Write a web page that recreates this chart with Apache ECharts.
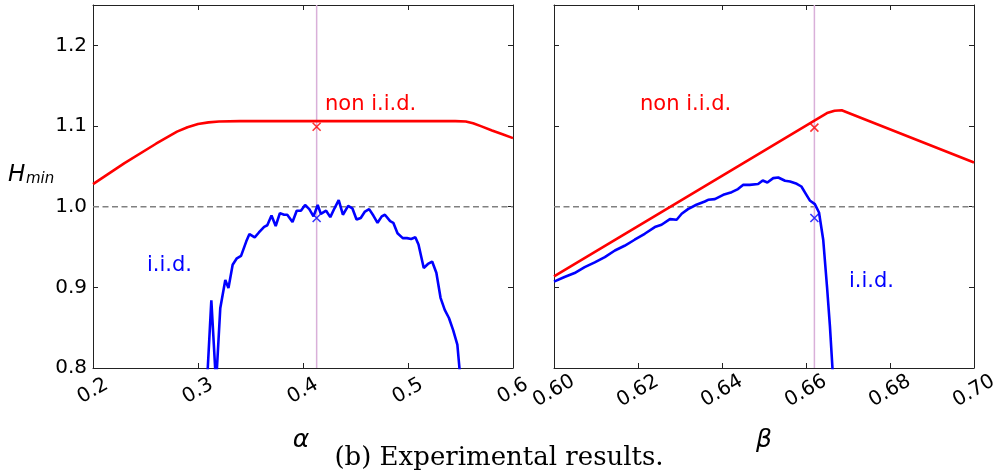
<!DOCTYPE html>
<html><head><meta charset="utf-8">
<script src="https://cdn.jsdelivr.net/npm/echarts@6/dist/echarts.min.js"></script>
<style>html,body{margin:0;padding:0;background:#fff}#c{width:1004px;height:473px}</style>
</head><body><div id="c"></div>
<script>
// ---- data ----
const alphaTicks = [0.2, 0.3, 0.4, 0.5, 0.6];
const betaTicks = [0.60, 0.62, 0.64, 0.66, 0.68, 0.70];
const hTicks = [0.8, 0.9, 1.0, 1.1, 1.2];
const hMax = 1.25;

const alphaRedX = [0.2, 0.23, 0.26, 0.28, 0.29, 0.30, 0.31, 0.32, 0.34, 0.40, 0.50, 0.545, 0.555, 0.562, 0.57, 0.58, 0.59, 0.6];
const alphaRedY = [1.028, 1.054, 1.078, 1.093, 1.0985, 1.1025, 1.1045, 1.1055, 1.106, 1.106, 1.106, 1.106, 1.1055, 1.1035, 1.0995, 1.0945, 1.0898, 1.085];

const alphaBlueX = [0.3085, 0.3127, 0.3172, 0.3212, 0.326, 0.329, 0.333, 0.337, 0.341, 0.346, 0.349, 0.354, 0.358, 0.363, 0.366, 0.370, 0.374, 0.378, 0.382, 0.385, 0.390, 0.394, 0.398, 0.402, 0.406, 0.410, 0.414, 0.417, 0.422, 0.426, 0.430, 0.434, 0.438, 0.443, 0.447, 0.451, 0.455, 0.459, 0.463, 0.467, 0.471, 0.475, 0.478, 0.483, 0.486, 0.490, 0.495, 0.499, 0.503, 0.507, 0.510, 0.515, 0.519, 0.523, 0.527, 0.531, 0.535, 0.539, 0.543, 0.547, 0.549, 0.551];
const alphaBlueY = [0.78, 0.884, 0.78, 0.874, 0.909, 0.899, 0.928, 0.936, 0.939, 0.957, 0.966, 0.962, 0.968, 0.975, 0.977, 0.989, 0.976, 0.992, 0.990, 0.990, 0.981, 0.995, 0.995, 1.002, 0.997, 0.988, 1.002, 0.991, 0.995, 0.987, 0.998, 1.008, 0.990, 1.001, 0.998, 0.984, 0.986, 0.994, 0.997, 0.989, 0.980, 0.988, 0.990, 0.982, 0.980, 0.967, 0.961, 0.961, 0.960, 0.962, 0.953, 0.924, 0.929, 0.932, 0.918, 0.887, 0.872, 0.862, 0.847, 0.829, 0.800, 0.76];

const betaRedX = [0.6, 0.662, 0.665, 0.6668, 0.6685, 0.670, 0.7];
const betaRedY = [0.9135, 1.1068, 1.1161, 1.119, 1.1195, 1.1164, 1.0548];

const betaBlueX = [0.6, 0.6025, 0.6049, 0.6073, 0.6097, 0.6121, 0.6145, 0.6168, 0.6192, 0.6216, 0.624, 0.6256, 0.6276, 0.6292, 0.6304, 0.6319, 0.6339, 0.6359, 0.6367, 0.6383, 0.6403, 0.6423, 0.6438, 0.645, 0.6466, 0.6486, 0.6497, 0.6508, 0.6522, 0.6534, 0.655, 0.6562, 0.6578, 0.6589, 0.6601, 0.6609, 0.6621, 0.6631, 0.6641, 0.665, 0.6657, 0.6663, 0.6668];
const betaBlueY = [0.907, 0.9128, 0.9177, 0.925, 0.931, 0.9375, 0.9457, 0.9515, 0.959, 0.9664, 0.9747, 0.9776, 0.9846, 0.9838, 0.9912, 0.997, 1.0024, 1.0064, 1.0085, 1.0094, 1.0147, 1.018, 1.0218, 1.027, 1.027, 1.028, 1.0325, 1.030, 1.0354, 1.0362, 1.0321, 1.0312, 1.0284, 1.025, 1.0147, 1.0077, 1.0032, 0.9928, 0.959, 0.901, 0.8516, 0.80, 0.75];

const alphaStar = 0.413, alphaStarRed = 1.099, alphaStarBlue = 0.986;
const betaStar = 0.662, betaStarRed = 1.098, betaStarBlue = 0.986;
const refLevel = 1.0;

// ---- chart ----
const zip = (xs, ys) => xs.map((x, i) => [x, ys[i]]);
const RED = '#ff0000', BLUE = '#0000ff', PURPLE = '#d9b0d9', GREY = '#808080', AX = '#222';
const FONT = 'DejaVu Sans';
const chart = echarts.init(document.getElementById('c'), null, {renderer: 'canvas'});

function xAx(grid, ticks, step, digits, pos) {
  const bottom = pos === 'bottom';
  return {
    type: 'value', gridIndex: grid, position: pos, min: ticks[0], max: ticks[ticks.length - 1], interval: step,
    splitLine: {show: false},
    axisLine: {show: true, onZero: false, lineStyle: {color: AX, width: 1}},
    axisTick: {show: true, inside: true, length: 5, lineStyle: {color: AX}},
    axisLabel: bottom ? {
      show: true, rotate: 30, align: 'center', verticalAlign: 'middle', margin: 23,
      fontFamily: FONT, fontSize: 20, color: '#000',
      formatter: v => v.toFixed(digits)
    } : {show: false}
  };
}
function yAx(grid, pos, labels) {
  return {
    type: 'value', gridIndex: grid, position: pos, min: hTicks[0], max: hMax, interval: 0.1,
    splitLine: {show: false},
    axisLine: {show: true, onZero: false, lineStyle: {color: AX, width: 1}},
    axisTick: {show: true, inside: true, length: 5, lineStyle: {color: AX}},
    axisLabel: labels ? {
      show: true, margin: 6, fontFamily: FONT, fontSize: 20, color: '#000',
      showMaxLabel: false,
      formatter: v => (hTicks.some(t => Math.abs(t - v) < 1e-6) ? v.toFixed(1) : '')
    } : {show: false}
  };
}
function refLine(xi, yi, pts, color, type) {
  return {
    type: 'line', xAxisIndex: xi, yAxisIndex: yi, data: pts, silent: true, z: 1,
    showSymbol: false, symbol: 'none',
    lineStyle: {color: color, width: 1.5, type: type}
  };
}
function curve(xi, yi, xs, ys, color) {
  return {
    type: 'line', xAxisIndex: xi, yAxisIndex: yi, data: zip(xs, ys),
    showSymbol: false, symbol: 'none', clip: true, z: 3,
    lineStyle: {color: color, width: 2.6}, itemStyle: {color: color}
  };
}
function cross(xi, yi, x, y, color) {
  return {
    type: 'scatter', xAxisIndex: xi, yAxisIndex: yi, data: [[x, y]], z: 6,
    symbol: 'path://M0,0L10,10M10,0L0,10', symbolSize: 8,
    itemStyle: {color: 'rgba(0,0,0,0)', borderColor: color, borderWidth: 1.6}
  };
}

const option = {
  animation: false,
  backgroundColor: '#fff',
  grid: [
    {left: 93, top: 5, width: 420, height: 363, containLabel: false},
    {left: 554, top: 5, width: 420, height: 363, containLabel: false}
  ],
  xAxis: [
    xAx(0, alphaTicks, 0.1, 1, 'bottom'),
    xAx(0, alphaTicks, 0.1, 1, 'top'),
    xAx(1, betaTicks, 0.02, 2, 'bottom'),
    xAx(1, betaTicks, 0.02, 2, 'top')
  ],
  yAxis: [
    yAx(0, 'left', true), yAx(0, 'right', false),
    yAx(1, 'left', false), yAx(1, 'right', false)
  ],
  series: [
    refLine(0, 0, [[alphaTicks[0], refLevel], [alphaTicks[alphaTicks.length - 1], refLevel]], GREY, [6, 3.5]),
    refLine(0, 0, [[alphaStar, hTicks[0]], [alphaStar, hMax]], PURPLE, 'solid'),
    refLine(2, 2, [[betaTicks[0], refLevel], [betaTicks[betaTicks.length - 1], refLevel]], GREY, [6, 3.5]),
    refLine(2, 2, [[betaStar, hTicks[0]], [betaStar, hMax]], PURPLE, 'solid'),
    curve(0, 0, alphaRedX, alphaRedY, RED),
    curve(0, 0, alphaBlueX, alphaBlueY, BLUE),
    curve(2, 2, betaRedX, betaRedY, RED),
    curve(2, 2, betaBlueX, betaBlueY, BLUE),
    cross(0, 0, alphaStar, alphaStarRed, RED),
    cross(0, 0, alphaStar, alphaStarBlue, BLUE),
    cross(2, 2, betaStar, betaStarRed, RED),
    cross(2, 2, betaStar, betaStarBlue, BLUE)
  ],
  graphic: [
    {type: 'text', x: 325, y: 105, style: {text: 'non i.i.d.', fill: RED, font: '21px "DejaVu Sans"', textVerticalAlign: 'middle'}},
    {type: 'text', x: 147, y: 265.5, style: {text: 'i.i.d.', fill: BLUE, font: '21px "DejaVu Sans"', textVerticalAlign: 'middle'}},
    {type: 'text', x: 640, y: 105, style: {text: 'non i.i.d.', fill: RED, font: '21px "DejaVu Sans"', textVerticalAlign: 'middle'}},
    {type: 'text', x: 849, y: 282, style: {text: 'i.i.d.', fill: BLUE, font: '21px "DejaVu Sans"', textVerticalAlign: 'middle'}},
    {type: 'text', x: 8, y: 175.5, style: {text: 'H', fill: '#000', font: 'italic 23px "DejaVu Sans"', textVerticalAlign: 'middle'}},
    {type: 'text', x: 26, y: 179, style: {text: 'min', fill: '#000', font: 'italic 15px "DejaVu Sans"', textVerticalAlign: 'middle'}},
    {type: 'text', x: 301, y: 440, style: {text: 'α', fill: '#000', font: 'italic 25px "DejaVu Sans"', textAlign: 'center', textVerticalAlign: 'middle'}},
    {type: 'text', x: 764, y: 440, style: {text: 'β', fill: '#000', font: 'italic 25px "DejaVu Sans"', textAlign: 'center', textVerticalAlign: 'middle'}},
    {type: 'text', x: 499, y: 458, style: {text: '(b) Experimental results.', fill: '#000', font: '26px "DejaVu Serif"', textAlign: 'center', textVerticalAlign: 'middle'}}
  ]
};
chart.setOption(option);
</script>
</body></html>
